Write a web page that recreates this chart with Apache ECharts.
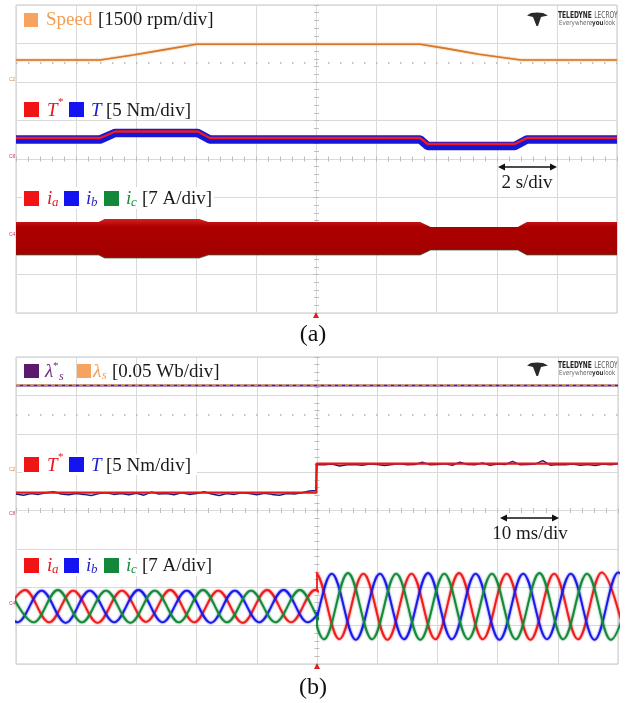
<!DOCTYPE html>
<html><head><meta charset="utf-8">
<script src="https://cdn.jsdelivr.net/npm/echarts@6/dist/echarts.min.js"></script>
<style>html,body{margin:0;padding:0;background:#fff}#c{width:626px;height:703px}</style>
</head><body><div id="c"></div>
<script>
// ================= Panel (a): 2 s/div (time in s) =================
const speedTime = [0, 2.8, 3.9, 5.0, 6.0, 13.45, 14.3, 15.4, 16.8, 20];
const speedRpm  = [860, 860, 1050, 1270, 1470, 1470, 1310, 1080, 860, 860];

const torqueTimeA = [0, 2.8, 3.3, 6.05, 6.45, 13.45, 13.7, 16.6, 17.0, 20];
const torqueRefA  = [2.73, 2.73, 3.57, 3.57, 2.73, 2.73, 1.95, 1.95, 2.73, 2.73];
const torqueActA  = [2.53, 2.53, 3.38, 3.38, 2.53, 2.53, 1.69, 1.69, 2.53, 2.53];

// envelope of the (dense) three-phase currents, A
const currentTimeA  = [0, 2.75, 2.95, 6.1, 6.4, 13.45, 13.8, 16.7, 17.0, 20];
const currentUpperA = [2.55, 2.55, 3.1, 3.1, 2.55, 2.55, 1.64, 1.64, 2.55, 2.55];
const currentLowerA = [-3.45, -3.45, -4.0, -4.0, -3.45, -3.45, -2.55, -2.55, -3.45, -3.45];

// ================= Panel (b): 10 ms/div (time in ms) =================
const fluxTime = [0, 100];
const fluxRef  = [0.113, 0.113];
const fluxAct  = [0.1135, 0.1135];

const torqueTimeB = [0, 49.9, 49.9, 100];
const torqueRefB  = [2.34, 2.34, 6.12, 6.12];
const torqueSampleStep = 1.25;
const torqueActBLeft = [2.15, 2.0, 2.2, 2.1, 2.3, 2.45, 2.15, 2.05, 2.2, 2.1, 1.95, 2.2, 2.3, 2.1, 2.2, 2.05, 2.25, 2.0, 2.4, 2.15,
                        2.2, 2.05, 2.3, 2.1, 2.2, 2.45, 2.15, 1.95, 2.2, 2.1, 2.3, 2.2, 2.05, 2.25, 2.1, 2.0, 2.2, 2.15, 2.3, 2.55];
const torqueActBStep = [49.8, 2.6];
const torqueActBRight = [6.0, 5.95, 6.05, 5.8, 5.95, 6.0, 5.9, 6.05, 6.0, 5.85, 6.0, 6.1, 5.95, 6.0, 6.3, 5.95, 6.0, 6.1, 5.9, 6.3,
                         6.0, 5.95, 6.2, 5.9, 6.05, 6.0, 6.4, 5.95, 6.0, 6.05, 6.5, 5.9, 6.0, 5.95, 6.05, 5.9, 6.0, 5.85, 6.05, 5.95, 6.1];

// phase-current extremes [ms, A] (peaks / troughs)
const iaLeft  = [[-2.5,-2.9],[1.5,3.0],[5.5,-2.9],[9.5,2.9],[13.55,-3.0],[17.6,2.9],[21.6,-2.8],[25.6,3.0],[29.6,-2.9],[33.6,2.9],[37.65,-3.0],[41.7,3.0],[45.7,-2.9],[49.7,3.0],[53.7,-2.9]];
const iaRight = [[45.7,-6.0],[49.7,6.2],[53.7,-6.0],[57.7,6.0],[61.7,-6.1],[65.7,6.0],[69.65,-6.0],[73.6,6.1],[77.55,-6.0],[81.5,6.0],[85.45,-6.1],[89.4,6.0],[93.35,-6.0],[97.3,6.2],[101.3,-6.0]];
const ibLeft  = [[-3.75,2.9],[0.25,-2.9],[4.25,2.9],[8.25,-3.0],[12.25,2.9],[16.3,-2.9],[20.35,3.0],[24.35,-2.9],[28.35,2.9],[32.35,-3.0],[36.35,2.9],[40.4,-2.9],[44.45,3.0],[48.45,-2.9],[52.45,2.9]];
const ibRight = [[44.45,6.0],[48.45,-6.0],[52.45,6.0],[56.45,-6.1],[60.45,6.0],[64.45,-6.0],[68.45,6.1],[72.4,-6.0],[76.35,6.0],[80.3,-6.1],[84.25,6.0],[88.2,-6.0],[92.15,6.0],[96.1,-6.1],[100.05,6.2],[104.0,-6.0]];
const icLeft  = [[-1.05,2.9],[2.95,-2.9],[6.95,3.0],[10.95,-2.9],[14.95,2.9],[19.0,-3.0],[23.05,2.9],[27.05,-2.9],[31.05,3.0],[35.05,-2.9],[39.05,2.9],[43.1,-2.9],[47.15,3.0],[51.15,-2.9],[55.15,2.9]];
const icRight = [[43.1,-6.0],[47.15,6.0],[51.15,-6.0],[55.15,6.1],[59.15,-6.0],[63.15,6.0],[67.15,-6.1],[71.15,6.0],[75.1,-6.0],[79.05,6.0],[83.0,-6.0],[86.95,6.1],[90.9,-6.0],[94.85,6.0],[98.8,-6.1],[102.75,6.0]];
const stepTime = 50;
const iaStep = [2.92, 6.0];
const ibStep = [-1.0, -2.1];
const icStep = [-1.8, -3.7];

// ================= build =================
const zip = (a, b) => a.map((v, i) => [v, b[i]]);
const GRID = '#dadada', BORDER = '#c6c6c6', TICK = '#bcbcbc';
const SERIF = '"Liberation Serif","Times New Roman",serif';

function divX(grid, inside, yIdx) {
  return {gridIndex: grid, type: 'value', min: -5, max: 5, interval: 1, position: 'bottom',
    axisLine: {show: true, onZero: true, onZeroAxisIndex: yIdx, lineStyle: {color: GRID}},
    axisTick: {show: true, inside: inside, length: 2.5, lineStyle: {color: TICK}},
    minorTick: {show: true, splitNumber: 5, length: 2.5, lineStyle: {color: TICK}},
    axisLabel: {show: false}, splitLine: {show: inside, lineStyle: {color: GRID}}};
}
function divY(grid, inside, xIdx) {
  return {gridIndex: grid, type: 'value', min: -4, max: 4, interval: 1, position: 'left',
    axisLine: {show: true, onZero: true, onZeroAxisIndex: xIdx, lineStyle: {color: GRID}},
    axisTick: {show: true, inside: inside, length: 2.5, lineStyle: {color: TICK}},
    minorTick: {show: true, splitNumber: 5, length: 2.5, lineStyle: {color: TICK}},
    axisLabel: {show: false}, splitLine: {show: inside, lineStyle: {color: GRID}}};
}
const hid = (grid, min, max) => ({gridIndex: grid, type: 'value', min: min, max: max, show: false});

const xAxis = [
  hid(0, 0, 20),            // 0 time (a)
  divX(0, true, 0),         // 1
  divX(0, false, 0),        // 2
  hid(1, 0, 100),           // 3 time (b)
  divX(1, true, 5),         // 4
  divX(1, false, 5),        // 5
  hid(2, 0, 50),            // 6
  hid(3, 50, 100)           // 7
];
const yAxis = [
  divY(0, true, 1),         // 0
  divY(0, false, 1),        // 1
  hid(0, -9000, 3000),      // 2 speed 1500 rpm/div
  hid(0, -20, 20),          // 3 torque 5 Nm/div
  hid(0, -14, 42),          // 4 current 7 A/div
  divY(1, true, 4),         // 5
  divY(1, false, 4),        // 6
  hid(1, -0.25, 0.15),      // 7 flux 0.05 Wb/div
  hid(1, -20, 20),          // 8 torque
  hid(1, -10.5, 45.5),      // 9 current
  hid(2, -10.5, 45.5),      // 10
  hid(3, -10.5, 45.5)       // 11
];

const line = (xi, yi, data, color, width, extra) => Object.assign({
  type: 'line', xAxisIndex: xi, yAxisIndex: yi, data: data, symbol: 'none', silent: true,
  animation: false, lineStyle: {color: color, width: width}
}, extra || {});

const dotted = (xi, yi) => ({type: 'line', xAxisIndex: xi, yAxisIndex: yi, data: [[-5, 2.5]], symbol: 'none',
  silent: true, animation: false, lineStyle: {opacity: 0},
  markLine: {silent: true, symbol: 'none', animation: false, label: {show: false},
    lineStyle: {color: '#b4b4b4', width: 1.5, type: [1.5, 10.5]}, data: [{yAxis: 2.5}]}});

const torqueActBData = [];
torqueActBLeft.forEach((v, i) => torqueActBData.push([i * torqueSampleStep, v]));
torqueActBData.push(torqueActBStep);
torqueActBRight.forEach((v, i) => torqueActBData.push([stepTime + i * torqueSampleStep, v]));

const fuzz = c => ({shadowBlur: 2, shadowColor: c});
const sine = (xi, yi, data, color) => line(xi, yi, data, color, 1.8,
  {smooth: 0.36, lineStyle: Object.assign({color: color, width: 1.8}, fuzz(color))});

const RED = '#ee1c1c', BLUE = '#1a1ae8', GREEN = '#14893a';

const series = [
  dotted(1, 0),
  dotted(4, 5),
  // (a) speed
  line(0, 2, zip(speedTime, speedRpm), '#d4782a', 1.6, {lineStyle: Object.assign({color: '#d4782a', width: 1.6}, fuzz('#e59a50'))}),
  // (a) torque
  line(0, 3, zip(torqueTimeA, torqueActA), '#1616d8', 8.5),
  line(0, 3, zip(torqueTimeA, torqueRefA), RED, 2.4),
  // (a) current envelope
  {type: 'custom', xAxisIndex: 0, yAxisIndex: 4, silent: true, animation: false, clip: true,
   data: currentTimeA.map((t, i) => [t, currentUpperA[i], currentLowerA[i]]),
   encode: {x: 0, y: [1, 2]},
   renderItem: function (params, api) {
     if (params.dataIndex !== 0) return null;
     const pts = [];
     for (let i = 0; i < currentTimeA.length; i++) pts.push(api.coord([currentTimeA[i], currentUpperA[i]]));
     for (let i = currentTimeA.length - 1; i >= 0; i--) pts.push(api.coord([currentTimeA[i], currentLowerA[i]]));
     return {type: 'polygon', shape: {points: pts},
       style: {fill: new echarts.graphic.LinearGradient(0, 0, 0, 1, [
         {offset: 0, color: '#d42020'}, {offset: 0.2, color: '#ac0000'}, {offset: 1, color: '#a20000'}])}};
   }},
  line(0, 4, zip(currentTimeA, currentLowerA), '#2d5e3a', 1, {lineStyle: {color: '#2d5e3a', width: 1, opacity: 0.7}}),
  // (b) flux
  line(3, 7, zip(fluxTime, fluxRef), '#5c1a6e', 2),
  line(3, 7, zip(fluxTime, fluxAct), '#e8a050', 1.5, {lineStyle: {color: '#e8a050', width: 1.5, type: [4, 3]}}),
  // (b) torque
  line(3, 8, torqueActBData, '#1e1e7a', 1.5),
  line(3, 8, zip(torqueTimeB, torqueRefB), '#e41818', 2.2),
  // (b) currents
  sine(6, 10, iaLeft, RED), sine(7, 11, iaRight, RED),
  sine(6, 10, ibLeft, BLUE), sine(7, 11, ibRight, BLUE),
  sine(6, 10, icLeft, GREEN), sine(7, 11, icRight, GREEN),
  line(3, 9, iaStep.map(v => [stepTime, v]), RED, 1.8),
  line(3, 9, ibStep.map(v => [stepTime, v]), BLUE, 1.8),
  line(3, 9, icStep.map(v => [stepTime, v]), GREEN, 1.8)
];

// ---------- annotations ----------
const G = [];
const T = (x, y, s, size, fill, style, align) => G.push({type: 'text', x: x, y: y, z: 100, silent: true,
  style: {text: s, font: (style || '') + ' ' + size + 'px ' + SERIF, fill: fill,
    textAlign: align || 'left', align: align || 'left', textVerticalAlign: 'middle', verticalAlign: 'middle'}});
const R = (x, y, w, h, fill) => G.push({type: 'rect', z: 99, silent: true, shape: {x: x, y: y, width: w, height: h}, style: {fill: fill}});
const P = (pts, fill) => G.push({type: 'polygon', z: 100, silent: true, shape: {points: pts}, style: {fill: fill}});

// (a) speed legend (baseline ~26)
R(24, 13, 14, 14, '#f5a35e');
T(46, 20, 'Speed', 19, '#f29d52');
T(98, 20, '[1500 rpm/div]', 19, '#1a1a1a');
// torque legends
function torqueLegend(base) {
  const y = base - 6;
  R(24, base - 15, 15, 15, '#f01414');
  T(47, y, 'T', 19, '#e8141e', 'italic');
  T(58, base - 15, '*', 11, '#e8141e');
  R(69, base - 15, 15, 15, '#1414f0');
  T(91, y, 'T', 19, '#1e1ed0', 'italic');
  T(106, y, '[5 Nm/div]', 19, '#1a1a1a');
}
function currentLegend(base) {
  const y = base - 6;
  R(22, base - 18, 192, 22, '#ffffff');
  R(24, base - 14, 15, 15, '#f01414');
  T(47, y, 'i', 19, '#e8141e', 'italic');
  T(52, y + 4, 'a', 13, '#e8141e', 'italic');
  R(64, base - 14, 15, 15, '#1414f0');
  T(86, y, 'i', 19, '#1e1ed0', 'italic');
  T(91, y + 4, 'b', 13, '#1e1ed0', 'italic');
  R(104, base - 14, 15, 15, '#13883a');
  T(126, y, 'i', 19, '#1a8a40', 'italic');
  T(131, y + 4, 'c', 13, '#1a8a40', 'italic');
  T(142, y, '[7 A/div]', 19, '#1a1a1a');
}
torqueLegend(117);
currentLegend(205);
// (b) flux legend
R(24, 364, 15, 14, '#5c1a6e');
T(45, 372, 'λ', 19, '#6e2a85', 'italic');
T(53, 366, '*', 11, '#6e2a85');
T(59, 377, 's', 12, '#6e2a85', 'italic');
R(77, 364, 14, 14, '#f5a35e');
T(93, 372, 'λ', 19, '#f29d52', 'italic');
T(102, 376, 's', 12, '#f29d52', 'italic');
T(112, 372, '[0.05 Wb/div]', 19, '#1a1a1a');
R(22, 454, 175, 21, '#ffffff');
torqueLegend(472);
currentLegend(572);

// time-scale arrows
function arrow(x0, x1, y) {
  G.push({type: 'line', z: 100, silent: true, shape: {x1: x0 + 3, y1: y, x2: x1 - 3, y2: y}, style: {stroke: '#111', lineWidth: 1.5}});
  P([[x0, y], [x0 + 7, y - 3.5], [x0 + 7, y + 3.5]], '#111');
  P([[x1, y], [x1 - 7, y - 3.5], [x1 - 7, y + 3.5]], '#111');
}
arrow(498, 557, 167); T(527, 183, '2 s/div', 19, '#1a1a1a', '', 'center');
arrow(500, 559, 518); T(530, 534, '10 ms/div', 19, '#1a1a1a', '', 'center');

// captions
T(313, 335, '(a)', 24, '#111', '', 'center');
T(313, 688, '(b)', 24, '#111', '', 'center');

// trigger markers
P([[313, 318], [319, 318], [316, 312]], '#e02020');
P([[314, 669], [320, 669], [317, 663]], '#e02020');

// channel markers
const small = (x, y, s, c) => G.push({type: 'text', x: x, y: y, z: 100, silent: true,
  style: {text: s, font: '5px sans-serif', fill: c, textAlign: 'left', align: 'left', textVerticalAlign: 'bottom', verticalAlign: 'bottom'}});
small(9, 82, 'C2', '#e08a40'); small(9, 159, 'C8', '#d04060'); small(9, 237, 'C4', '#d04060');
small(9, 472, 'C2', '#e08a40'); small(9, 516, 'C8', '#d04060'); small(9, 606, 'C4', '#d04060');

// logos
function logo(dy) {
  P([[527, 15.5 + dy], [531, 13 + dy], [537, 12.5 + dy], [543, 13 + dy], [548, 15.5 + dy], [541, 17 + dy], [538, 26 + dy], [536.5, 26 + dy], [533, 17 + dy]], '#2a2a2a');
  G.push({type: 'text', x: 558, y: 16 + dy, z: 100, silent: true, scaleX: 0.7, style: {
    text: '{b|TELEDYNE} {l|LECROY}', textAlign: 'left', align: 'left', textVerticalAlign: 'middle', verticalAlign: 'middle',
    rich: {b: {font: 'bold 8.5px "DejaVu Sans",sans-serif', fill: '#222'},
           l: {font: '8.5px "DejaVu Sans",sans-serif', fill: '#555'}}}});
  G.push({type: 'text', x: 559, y: 23.5 + dy, z: 100, silent: true, scaleX: 0.8, style: {
    text: '{n|Everywhere}{b|you}{n|look}', textAlign: 'left', align: 'left', textVerticalAlign: 'middle', verticalAlign: 'middle',
    rich: {n: {font: '7px "DejaVu Sans",sans-serif', fill: '#666'},
           b: {font: 'bold 7px "DejaVu Sans",sans-serif', fill: '#333'}}}});
}
logo(0); logo(350);

const chart = echarts.init(document.getElementById('c'), null, {renderer: 'canvas'});
chart.setOption({
  animation: false,
  backgroundColor: '#ffffff',
  grid: [
    {left: 16, top: 5, width: 601, height: 308, show: true, borderColor: BORDER, borderWidth: 1},
    {left: 16, top: 357, width: 602, height: 307, show: true, borderColor: BORDER, borderWidth: 1},
    {left: 16, top: 357, width: 301, height: 307},
    {left: 317, top: 357, width: 301, height: 307}
  ],
  xAxis: xAxis,
  yAxis: yAxis,
  series: series,
  graphic: {elements: G}
});
</script></body></html>
